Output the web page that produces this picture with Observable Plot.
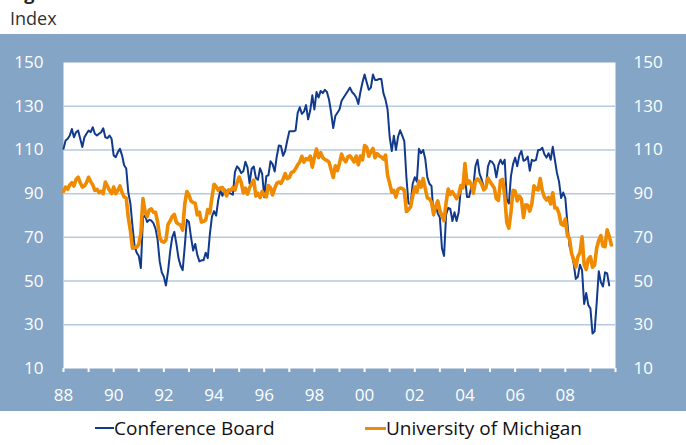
<!DOCTYPE html>
<html><head><meta charset="utf-8">
<script src="https://cdn.jsdelivr.net/npm/d3@7"></script>
<script src="https://cdn.jsdelivr.net/npm/@observablehq/plot@0.6"></script>
<style>
body{margin:0;width:686px;height:445px;position:relative;overflow:hidden;background:#fff;font-family:"Open Sans",sans-serif;}
#title{position:absolute;left:9px;top:-16px;font-weight:bold;font-size:18px;line-height:18px;color:#222;white-space:nowrap}
#unit{position:absolute;left:10px;top:6px;font-size:18px;color:#333;}
#chart{position:absolute;left:0;top:34px;}
.leg{position:absolute;top:417px;font-size:19px;line-height:22px;color:#111;display:flex;align-items:center;white-space:nowrap}
.sw{display:inline-block;height:0;border-top-style:solid;}
</style></head>
<body>
<div id="title">Figure 1: Consumer confidence</div>
<div id="unit">Index</div>
<div id="chart"></div>
<div class="leg" style="left:95px"><span class="sw" style="width:19px;border-top-width:2px;border-top-color:#123a8c"></span>Conference Board</div>
<div class="leg" style="left:365px"><span class="sw" style="width:21px;border-top-width:3px;border-top-color:#f08a00"></span>University of Michigan</div>
<script>
// Monthly values, January 1988 onward
const startYear = 1988;
const conferenceBoard = [
  110.5,114.3,115.1,116.6,119.6,115.8,118.1,118.9,115.1,111.3,115.8,117.4, // 1988
  118.9,118.1,120.4,117.4,116.6,117.4,118.1,119.9,115.8,115.4,116.6,115.1, // 1989
  107.5,106.7,109,110.5,107.5,103,101.5,90.5,85.5,75,66,63,                // 1990
  61.5,56,79,80,77,78,77.7,76.5,74,69,59,54,                               // 1991
  52,48,54.5,63.5,70,72.5,67,60.5,57,55,66,78,                             // 1992
  77,70,64,67,62,59,59.5,59.5,63,60.5,71.5,79.5,                           // 1993
  82,80,87,91.5,89,92,91,90.5,90,89.5,100,102.5,                           // 1994
  101.4,99.4,100.2,104.6,102,94.6,101.4,102.4,97.3,96.3,101.6,99.2,        // 1995
  88.4,98,98.4,104.8,103.5,100.1,107,112,111.8,107.3,109.5,114.2,          // 1996
  118.5,118.5,118.5,119,127,129.5,126.5,127.5,130.5,124,128,135,           // 1997
  128.5,136.5,134,137,136,137.5,136.5,133,127,120,125.5,127,               // 1998
  128.5,132.5,134,135.5,137,138.5,136.5,135.5,134,131,136.5,141,           // 1999
  144.5,141,137.5,138.5,144.5,142,142,142.5,142.5,136,133,128.5,           // 2000
  116,109.5,116.5,110,116,119,116.5,114,97.5,85.5,85,94.5,                 // 2001
  97.5,95.5,110.5,108.5,110,106,97.5,94.5,93.5,80,84.5,81,                 // 2002
  79,65,61.5,80.5,83.5,83,77.5,81.5,77.5,81.5,92,94.5,                     // 2003
  97.5,88.5,88.5,93,93,102.5,105.5,99,96.5,93,92.5,102.5,                  // 2004
  105,104.5,103,97.5,103,105.5,103.5,105.5,87.5,85.5,98,103.5,             // 2005
  106.5,102.5,107.5,109.5,105,105.5,107,100.5,105.5,105,105.5,110,         // 2006
  110,111,108,106.5,108.5,105.5,111.5,105.5,99.5,95.5,88,90.5,             // 2007
  88,76.5,66,63,58,51,52,57.5,55,39.5,44.5,39,                             // 2008
  37.5,26,27,40,54.5,49.5,47.5,54,53.5,48                                  // 2009
];
const michigan = [
  91,93,92,94,95,93.5,96.5,97.5,95,93,93.5,95,                             // 1988
  97.5,95.5,94,91.5,92,90.5,91,90,95.3,93.5,91.5,90,                       // 1989
  93,90,91.5,93.5,90.5,88.5,88,79,73,65,65.5,65.5,                         // 1990
  66.8,72,87.7,82,79.5,82.5,83,81.5,81.5,77,70,68.2,                       // 1991
  67.8,68.8,76,77.5,79.5,80.5,76.8,76.1,75.6,73.3,85.3,91,                 // 1992
  89.3,86.6,85.9,85.6,80.3,81.5,77,77.3,77.9,82.7,81.2,88.2,               // 1993
  94.3,93.2,91.5,92.6,92.8,91.2,89,91.7,91.5,92.7,91.6,95.1,               // 1994
  97.6,95.1,90.3,92.5,89.8,92.7,94.4,96.2,88.9,90.2,88.2,91,               // 1995
  89.3,88.5,93.7,92.7,89.4,92.4,94.7,95.3,94.7,96.5,99.2,96.9,             // 1996
  97.4,99.7,100,101.4,103.2,104.5,107.1,104.4,106,105.6,107.2,102.1,       // 1997
  106.6,110.4,106.5,108.7,106.5,105.6,105.2,104.4,100.9,97.4,102.7,100.5,  // 1998
  103.9,108.1,105.7,104.6,106.8,107.3,106,104.5,107.2,103.2,107.2,105.4,   // 1999
  112,111.3,107.1,109.2,110.7,106.4,108.3,107.3,106.8,105.8,107.6,98.4,    // 2000
  94.7,90.6,91.5,88.4,92,92.6,92.4,91.5,81.8,82.7,83.9,88.8,               // 2001
  93,90.7,95.7,93,96.9,92.4,88.1,87.6,86.1,80.6,84.2,86.7,                 // 2002
  82.4,79.9,77.6,86,92.1,89.7,90.9,89.3,87.7,89.6,93.7,92.6,               // 2003
  103.8,94.4,95.8,94.2,90.2,95.6,96.7,95.9,94.2,91.7,92.8,97.1,            // 2004
  95.5,94.1,92.6,87.7,86.9,96,96.5,89.1,76.9,74.2,81.6,91.5,               // 2005
  91.2,86.7,88.9,87.4,79.1,84.9,84.7,82,85.4,93.6,92.1,91.7,               // 2006
  96.9,91.3,88.4,87.1,88.3,85.3,90.4,83.4,83.4,80.9,76.1,75.5,             // 2007
  78.4,70.8,69.5,62.6,59.8,56.4,61.2,63,70.3,57.6,55.3,60.1,               // 2008
  61.2,56.3,57.3,65.1,68.7,70.8,66,65.7,73.5,70.6,66.5                     // 2009
];
const yTicks = [10,30,50,70,90,110,130,150];
const gridValues = [30,50,70,90,110,130];
const yearTicks = d3.range(1988, 2011);
const labelYears = d3.range(1988, 2010, 2);
const xDomain = [1988, 2010];

const frameColor = "#84a5c6";
const gridColor = "#b7cbe0";
const blue = "#123a8c";
const orange = "#f08a00";

const toRows = arr => arr.map((v, i) => ({date: startYear + i / 12, value: v}));
const cbRows = toRows(conferenceBoard);
const umRows = toRows(michigan);

const chart = Plot.plot({
  width: 686,
  height: 377,
  marginTop: 28,
  marginBottom: 43,
  marginLeft: 63,
  marginRight: 71,
  style: {background: frameColor, color: "white", fontFamily: "'Open Sans', sans-serif", fontSize: "17px", overflow: "visible"},
  x: {domain: xDomain},
  y: {domain: [10, 150]},
  marks: [
    Plot.frame({fill: "white", stroke: "none"}),
    Plot.gridY(gridValues, {stroke: gridColor, strokeOpacity: 1, strokeWidth: 1.5}),
    Plot.axisY(yTicks, {anchor: "left", tickSize: 0, tickPadding: 20, label: null, fill: "white", fontSize: 17}),
    Plot.axisY(yTicks, {anchor: "right", tickSize: 0, tickPadding: 18, label: null, fill: "white", fontSize: 17}),
    Plot.axisX(yearTicks, {anchor: "bottom", tickSize: 4, stroke: "white", strokeWidth: 2, text: null, label: null}),
    Plot.axisX(labelYears, {anchor: "bottom", tickSize: 0, tickPadding: 20, label: null, fill: "white", fontSize: 17,
      tickFormat: d => String(d % 100).padStart(2, "0")}),
    Plot.line(cbRows, {x: "date", y: "value", stroke: blue, strokeWidth: 2}),
    Plot.line(umRows, {x: "date", y: "value", stroke: orange, strokeWidth: 3.6})
  ]
});
document.getElementById("chart").appendChild(chart);
</script>
</body></html>
